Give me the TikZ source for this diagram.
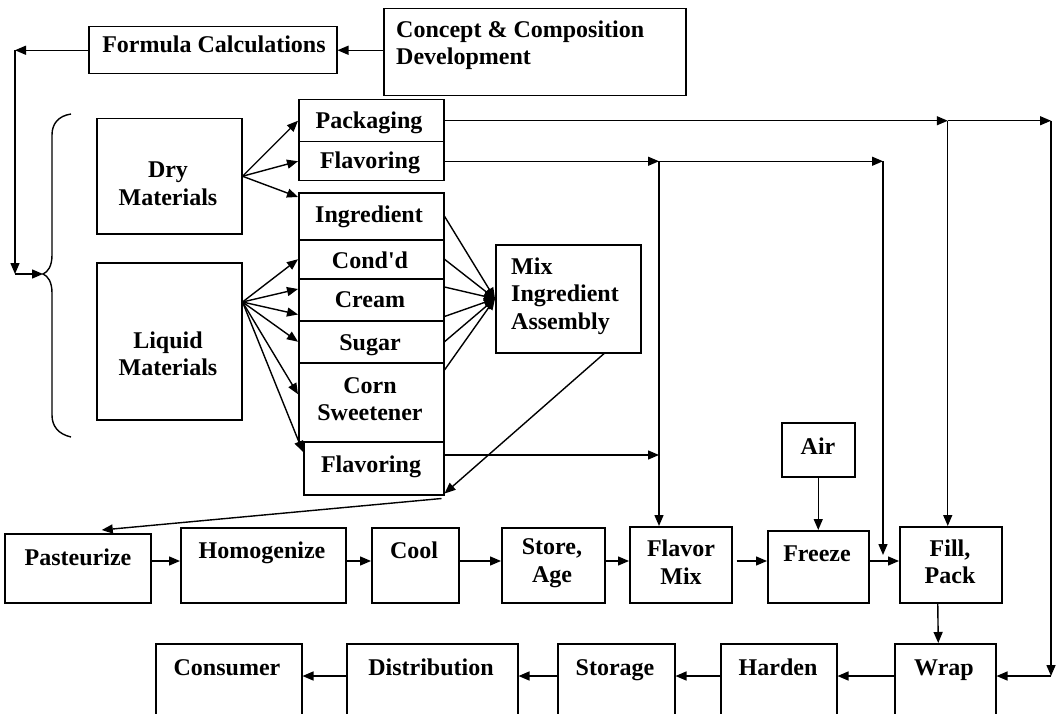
\documentclass[tikz,border=0pt]{standalone}
\usepackage{fontspec}
\setmainfont{Liberation Serif}[Ligatures=TeXOff]
\usetikzlibrary{arrows.meta,calc}
\newcommand\mybox[5]{\node[box,minimum width=#4pt,minimum height=#5pt] (#1) at (#2,#3) {};}
\begin{document}
\begin{tikzpicture}[x=1pt,y=-1pt,
  box/.style={draw, line width=1.5pt, inner sep=0pt, anchor=north west},
  txt/.style={font=\fontsize{24}{27.5}\selectfont\bfseries, align=center, inner sep=0pt},
  btxt/.style={font=\fontsize{24}{27.5}\selectfont\bfseries, inner sep=0pt, anchor=base},
  ltxt/.style={font=\fontsize{24}{27.5}\selectfont\bfseries, align=left, inner sep=0pt, anchor=west},
  arr/.style={line width=1.4pt, -{Triangle[length=11pt,width=9pt]}},
  ln/.style={line width=1.4pt}]
\fill[white] (0,0) rectangle (1059,714);
\useasboundingbox (0,0) rectangle (1059,714);
\clip (0,0) rectangle (1059,714);

% boxes
\mybox{formula}{88}{26}{248}{47}
\mybox{concept}{383}{8}{302}{87}
\mybox{dry}{96}{118}{145}{115}
\mybox{liquid}{96}{262}{145}{157}
\mybox{packaging}{298}{99}{145}{42}
\mybox{flavA}{298}{141}{145}{39}
\mybox{ingredient}{298}{192}{145}{47}
\mybox{condd}{298}{239}{145}{39}
\mybox{cream}{298}{278}{145}{42}
\mybox{sugar}{298}{320}{145}{42}
\mybox{corn}{298}{362}{145}{79}
\mybox{flavB}{303}{441}{140}{53}
\mybox{mix}{495}{244}{145}{108}
\mybox{pasteurize}{4}{533}{146}{69}
\mybox{homogenize}{180}{527}{165}{75}
\mybox{cool}{371}{527}{87}{75}
\mybox{store}{501}{527}{103}{75}
\mybox{flavormix}{629}{526}{102}{76}
\mybox{air}{781}{422}{73}{54}
\mybox{freeze}{767}{530}{101}{72}
\mybox{fillpack}{899}{526}{102}{76}
\mybox{wrap}{894}{643}{101}{90}
\mybox{harden}{720}{643}{116}{90}
\mybox{storage}{557}{643}{117}{90}
\mybox{distribution}{346}{643}{171}{90}
\mybox{consumer}{155}{643}{146}{90}

% texts
\node[btxt] (t-formula) at (214,53) {Formula Calculations};
\node[ltxt] (t-concept) at (396,45) {Concept \& Composition\\Development};
\node[txt] (t-dry) at (168,184) {Dry\\Materials};
\node[txt] (t-liquid) at (168,354) {Liquid\\Materials};
\node[btxt] (t-packaging) at (369,129) {Packaging};
\node[btxt] (t-flavA) at (370,168) {Flavoring};
\node[btxt] (t-ingredient) at (369,222) {Ingredient};
\node[btxt] (t-condd) at (370,268) {Cond'd};
\node[btxt] (t-cream) at (370,307) {Cream};
\node[btxt] (t-sugar) at (370,350) {Sugar};
\node[txt] (t-corn) at (370,399) {Corn\\Sweetener};
\node[btxt] (t-flavB) at (371,472) {Flavoring};
\node[ltxt] (t-mix) at (511,296) {Mix\\Ingredient\\Assembly};
\node[btxt] (t-pasteurize) at (78,565) {Pasteurize};
\node[btxt] (t-homogenize) at (262,558) {Homogenize};
\node[btxt] (t-cool) at (414,558) {Cool};
\node[txt] (t-store) at (552,563) {Store,\\Age};
\node[txt] (t-flavormix) at (681,562) {Flavor\\Mix};
\node[btxt] (t-air) at (818,454) {Air};
\node[btxt] (t-freeze) at (817,561) {Freeze};
\node[txt] (t-fillpack) at (950,562) {Fill,\\Pack};
\node[btxt] (t-wrap) at (944,675) {Wrap};
\node[btxt] (t-harden) at (778,675) {Harden};
\node[btxt] (t-storage) at (615,675) {Storage};
\node[btxt] (t-distribution) at (431,675) {Distribution};
\node[btxt] (t-consumer) at (227,675) {Consumer};

% top left loop
\coordinate (lx) at (15,0);
\coordinate (btip) at (43,274);
\draw[arr] (concept.west |- formula.east) -- (formula.east);
\draw[arr] (formula.west) -- (lx |- formula.west);
\draw[arr] (lx |- formula.west) -- (lx |- btip);
\draw[arr] (lx |- btip) -- (btip);
% brace
\draw[ln] (71,114) .. controls (58,116) and (52,124) .. (52,135) -- (52,255)
  .. controls (52,266) and (48,272) .. (43,274)
  .. controls (48,276) and (52,282) .. (52,293) -- (52,415)
  .. controls (52,426) and (58,434) .. (71,437);

% dry materials
\draw[arr] (dry.east) -- (packaging.west);
\draw[arr] (dry.east) -- (flavA.west);
\draw[arr] (dry.east) -- ($(ingredient.north west)+(0,5)$);

% liquid materials
\coordinate (lqo) at ($(liquid.north east)+(0,40)$);
\draw[arr] (lqo) -- (condd.west);
\draw[arr] (lqo) -- ($(cream.north west)+(0,11)$);
\draw[arr] (lqo) -- ($(cream.south west)+(0,-7)$);
\draw[arr] (lqo) -- (sugar.west);
\draw[arr] (lqo) -- ($(corn.west)+(0,-8)$);
\draw[arr] (lqo) -- ($(flavB.north west)+(0,11)$);

% converge to mix
\coordinate (mixin) at (mix.west);
\draw[arr] (ingredient.east) -- (mixin);
\draw[arr] (condd.east) -- (mixin);
\draw[arr] ($(cream.north east)+(0,9)$) -- (mixin);
\draw[arr] ($(cream.south east)+(0,-5)$) -- (mixin);
\draw[arr] (sugar.east) -- (mixin);
\draw[arr] ($(corn.north east)+(0,8)$) -- (mixin);

% mix to flavoring, flavoring to pasteurize
\draw[arr] ($(mix.south west)!0.745!(mix.south east)$) -- ($(flavB.south east)+(0,-2)$);
\draw[arr] ($(flavB.south east)+(-3,3)$) -- ($(pasteurize.north)+(24,-3)$);

% packaging lines
\coordinate (p1) at ($(fillpack.north |- packaging.east)+(-3,0)$);
\coordinate (rx) at (1051,0);
\coordinate (p2) at (rx |- packaging.east);
\coordinate (wrapin) at ($(wrap.north east)+(0,33)$);
\draw[arr] (packaging.east) -- (p1);
\draw[arr] (p1) -- (p2);
\draw[arr] (p1) -- (p1 |- fillpack.north);
\draw[arr] (p2) -- (rx |- wrapin);
\draw[arr] (rx |- wrapin) -- (wrapin);

% flavoring lines
\coordinate (fmin) at ($(flavormix.north west)+(30,0)$);
\coordinate (f1) at (fmin |- flavA.east);
\coordinate (fx) at (883,0);
\coordinate (f2) at (fx |- flavA.east);
\coordinate (f3) at (883,555);
\draw[arr] (flavA.east) -- (f1);
\draw[arr] (f1) -- (f2);
\draw[arr] (f1) -- (fmin);
\draw[arr] (f2) -- (f3);
\coordinate (fbo) at ($(flavB.north east)+(0,14)$);
\draw[arr] (fbo) -- (fmin |- fbo);

% air
\draw[arr] (air.south) -- (freeze.north);

% middle row
\coordinate (row) at (0,561);
\draw[arr] (pasteurize.east |- row) -- (homogenize.west |- row);
\draw[arr] (homogenize.east |- row) -- (cool.west |- row);
\draw[arr] (cool.east |- row) -- (store.west |- row);
\draw[arr] (store.east |- row) -- (flavormix.west |- row);
\draw[arr] ($(flavormix.east |- row)+(4,0)$) -- (freeze.west |- row);
\draw[arr] (freeze.east |- row) -- (fillpack.west |- row);
\draw[arr] ($(fillpack.south)+(-13,0)$) -- ($(wrap.north)+(-7,0)$);

% bottom row
\coordinate (brow) at (0,676);
\draw[arr] (wrap.west |- brow) -- (harden.east |- brow);
\draw[arr] (harden.west |- brow) -- (storage.east |- brow);
\draw[arr] (storage.west |- brow) -- (distribution.east |- brow);
\draw[arr] (distribution.west |- brow) -- (consumer.east |- brow);
\end{tikzpicture}
\end{document}
